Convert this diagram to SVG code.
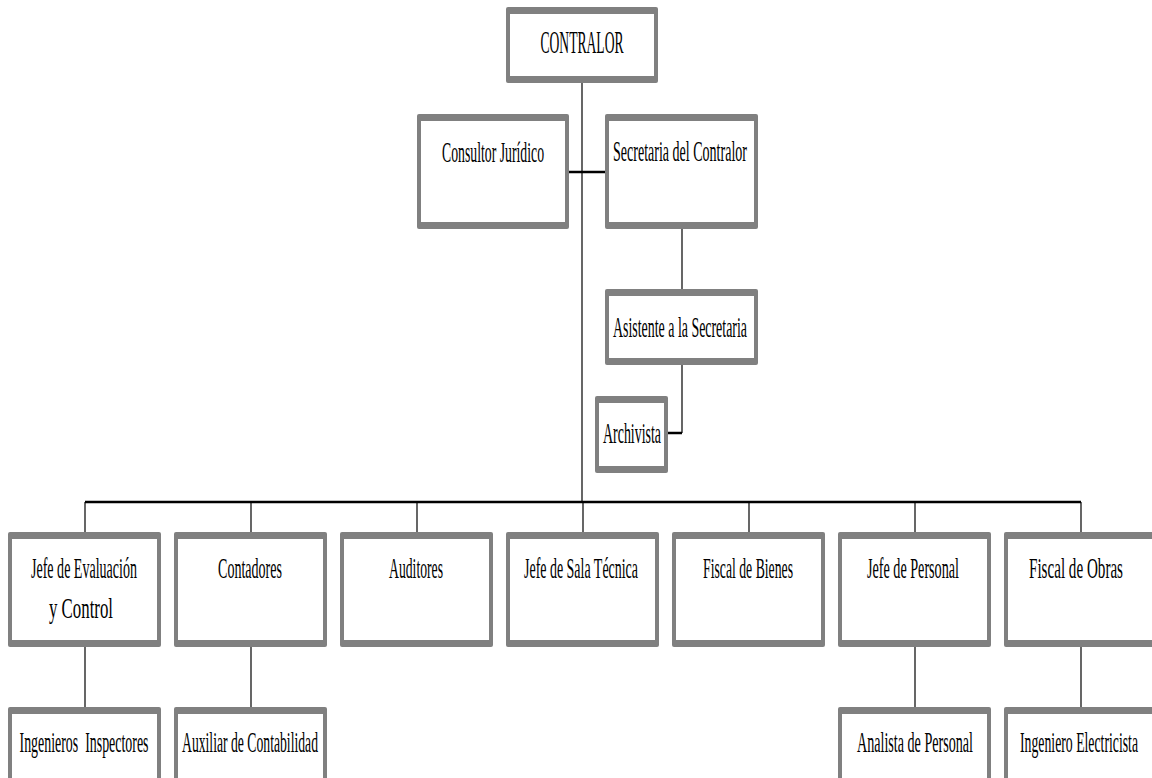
<svg xmlns="http://www.w3.org/2000/svg" width="1152" height="778" viewBox="0 0 1152 778">
<style>
.o{fill:#808080}
.i{fill:#ffffff}
.t{font-family:"Liberation Serif","Times New Roman",serif;font-size:14px;fill:#000;text-anchor:middle;white-space:pre}
.c1{stroke:#000;stroke-width:1.2;fill:none}
.c2{stroke:#000;stroke-width:2.5;fill:none}
</style>
<rect width="1152" height="778" fill="#fff"/>
<g id="connectors">
<line class="c1" x1="582" y1="83" x2="582" y2="502"/>
<line class="c2" x1="569" y1="172" x2="605" y2="172"/>
<line class="c1" x1="682" y1="229" x2="682" y2="289"/>
<polyline class="c1" points="682,365 682,433"/>
<line class="c2" x1="682" y1="433" x2="668" y2="433"/>
<line class="c2" x1="85" y1="502" x2="1081" y2="502"/>
<line class="c1" x1="85" y1="502" x2="85" y2="532"/>
<line class="c1" x1="251" y1="502" x2="251" y2="532"/>
<line class="c1" x1="417" y1="502" x2="417" y2="532"/>
<line class="c1" x1="583" y1="502" x2="583" y2="532"/>
<line class="c1" x1="749" y1="502" x2="749" y2="532"/>
<line class="c1" x1="915" y1="502" x2="915" y2="532"/>
<line class="c1" x1="1081" y1="502" x2="1081" y2="532"/>
<line class="c1" x1="85" y1="647" x2="85" y2="707"/>
<line class="c1" x1="251" y1="647" x2="251" y2="707"/>
<line class="c1" x1="915" y1="647" x2="915" y2="707"/>
<line class="c1" x1="1081" y1="647" x2="1081" y2="707"/>
</g>
<g id="contralor">
<rect class="o" x="506" y="7" width="152" height="76" rx="2"/>
<rect class="i" x="510" y="14" width="144" height="62"/>
<text class="t" transform="translate(582,53) scale(1,2.2)" textLength="83" lengthAdjust="spacingAndGlyphs">CONTRALOR</text>
</g>
<g id="consultor">
<rect class="o" x="417" y="114" width="152" height="115" rx="2"/>
<rect class="i" x="421" y="121" width="144" height="101"/>
<text class="t" transform="translate(493,162) scale(1,2.15)" textLength="102" lengthAdjust="spacingAndGlyphs">Consultor Jurídico</text>
</g>
<g id="secretaria">
<rect class="o" x="605" y="114" width="153" height="115" rx="2"/>
<rect class="i" x="609" y="121" width="145" height="101"/>
<text class="t" transform="translate(680,161) scale(1,2.15)" textLength="134" lengthAdjust="spacingAndGlyphs">Secretaria del Contralor</text>
</g>
<g id="asistente">
<rect class="o" x="605" y="289" width="153" height="76" rx="2"/>
<rect class="i" x="609" y="296" width="145" height="62"/>
<text class="t" transform="translate(680,337) scale(1,2.15)" textLength="134" lengthAdjust="spacingAndGlyphs">Asistente a la Secretaria</text>
</g>
<g id="archivista">
<rect class="o" x="595" y="396" width="73" height="77" rx="2"/>
<rect class="i" x="599" y="403" width="65" height="63"/>
<text class="t" transform="translate(632,443) scale(1,2.15)" textLength="58" lengthAdjust="spacingAndGlyphs">Archivista</text>
</g>
<g id="jefe-evaluacion">
<rect class="o" x="8" y="532" width="153" height="115" rx="2"/>
<rect class="i" x="12" y="539" width="145" height="101"/>
<text class="t" transform="translate(84,578) scale(1,2.15)" textLength="106" lengthAdjust="spacingAndGlyphs">Jefe de Evaluación</text>
<text class="t" transform="translate(81,618) scale(1,2.15)" textLength="64" lengthAdjust="spacingAndGlyphs">y Control</text>
</g>
<g id="contadores">
<rect class="o" x="174" y="532" width="153" height="115" rx="2"/>
<rect class="i" x="178" y="539" width="145" height="101"/>
<text class="t" transform="translate(250,578) scale(1,2.15)" textLength="64" lengthAdjust="spacingAndGlyphs">Contadores</text>
</g>
<g id="auditores">
<rect class="o" x="340" y="532" width="153" height="115" rx="2"/>
<rect class="i" x="344" y="539" width="145" height="101"/>
<text class="t" transform="translate(416,578) scale(1,2.15)" textLength="54" lengthAdjust="spacingAndGlyphs">Auditores</text>
</g>
<g id="jefe-sala">
<rect class="o" x="506" y="532" width="153" height="115" rx="2"/>
<rect class="i" x="510" y="539" width="145" height="101"/>
<text class="t" transform="translate(581,578) scale(1,2.15)" textLength="114" lengthAdjust="spacingAndGlyphs">Jefe de Sala Técnica</text>
</g>
<g id="fiscal-bienes">
<rect class="o" x="672" y="532" width="153" height="115" rx="2"/>
<rect class="i" x="676" y="539" width="145" height="101"/>
<text class="t" transform="translate(748,578) scale(1,2.15)" textLength="90" lengthAdjust="spacingAndGlyphs">Fiscal de Bienes</text>
</g>
<g id="jefe-personal">
<rect class="o" x="838" y="532" width="153" height="115" rx="2"/>
<rect class="i" x="842" y="539" width="145" height="101"/>
<text class="t" transform="translate(913,578) scale(1,2.15)" textLength="92" lengthAdjust="spacingAndGlyphs">Jefe de Personal</text>
</g>
<g id="fiscal-obras">
<rect class="o" x="1004" y="532" width="153" height="115" rx="2"/>
<rect class="i" x="1008" y="539" width="145" height="101"/>
<text class="t" transform="translate(1076,578) scale(1,2.15)" textLength="94" lengthAdjust="spacingAndGlyphs">Fiscal de Obras</text>
</g>
<g id="ingenieros">
<rect class="o" x="8" y="707" width="153" height="80" rx="2"/>
<rect class="i" x="12" y="714" width="145" height="80"/>
<text class="t" transform="translate(84,752) scale(1,2.15)" textLength="129" lengthAdjust="spacingAndGlyphs">Ingenieros  Inspectores</text>
</g>
<g id="auxiliar">
<rect class="o" x="174" y="707" width="153" height="80" rx="2"/>
<rect class="i" x="178" y="714" width="145" height="80"/>
<text class="t" transform="translate(250,752) scale(1,2.15)" textLength="136" lengthAdjust="spacingAndGlyphs">Auxiliar de Contabilidad</text>
</g>
<g id="analista">
<rect class="o" x="838" y="707" width="153" height="80" rx="2"/>
<rect class="i" x="842" y="714" width="145" height="80"/>
<text class="t" transform="translate(915,752) scale(1,2.15)" textLength="116" lengthAdjust="spacingAndGlyphs">Analista de Personal</text>
</g>
<g id="ingeniero-electricista">
<rect class="o" x="1004" y="707" width="153" height="80" rx="2"/>
<rect class="i" x="1008" y="714" width="145" height="80"/>
<text class="t" transform="translate(1079,752) scale(1,2.15)" textLength="118" lengthAdjust="spacingAndGlyphs">Ingeniero Electricista</text>
</g>
</svg>
